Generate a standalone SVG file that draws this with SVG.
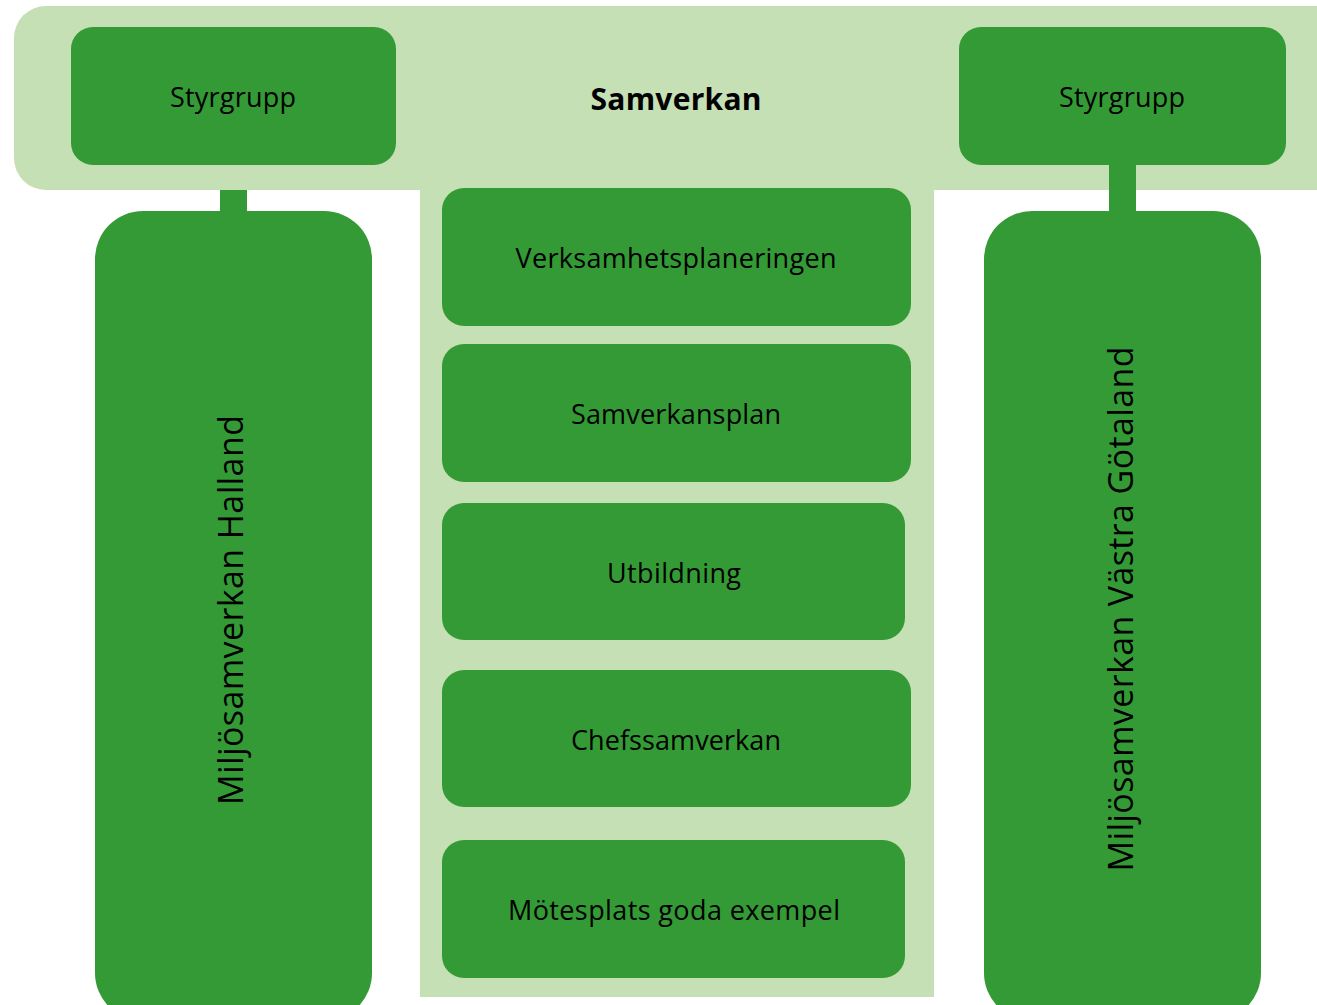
<svg xmlns="http://www.w3.org/2000/svg" width="1317" height="1005" viewBox="0 0 1317 1005">
<style>
.bg{fill:#C5E0B4}
.box{fill:#349A35}
.lbl{font-family:"Open Sans","DejaVu Sans",sans-serif;font-size:27px;fill:#000;text-anchor:middle}
.big{font-size:34px}
.bold{font-weight:bold;font-size:30px}
</style>
<rect width="1317" height="1005" fill="#fff"/>
<g id="samverkan">
<rect class="bg" x="14" y="6" width="1340" height="184" rx="32"/>
<rect class="bg" x="420" y="180" width="514" height="817"/>
<text class="lbl bold" x="676" y="110" textLength="171">Samverkan</text>
</g>
<g id="connectors">
<rect class="box" x="220" y="190" width="27" height="25"/>
<rect class="box" x="1109" y="160" width="27" height="55"/>
</g>
<g id="styrgrupp-left">
<rect class="box" x="71" y="27" width="325" height="138" rx="22"/>
<text class="lbl" x="233" y="107" textLength="126">Styrgrupp</text>
</g>
<g id="styrgrupp-right">
<rect class="box" x="959" y="27" width="327" height="138" rx="22"/>
<text class="lbl" x="1122" y="107" textLength="126">Styrgrupp</text>
</g>
<g id="halland">
<rect class="box" x="95" y="211" width="277" height="810" rx="48"/>
<text class="lbl big" transform="translate(243,610) rotate(-90)" x="0" y="0" textLength="390">Miljösamverkan Halland</text>
</g>
<g id="vastra-gotaland">
<rect class="box" x="984" y="211" width="277" height="810" rx="48"/>
<text class="lbl big" transform="translate(1133,609) rotate(-90)" x="0" y="0" textLength="525">Miljösamverkan Västra Götaland</text>
</g>
<g id="verksamhetsplaneringen">
<rect class="box" x="442" y="188" width="469" height="138" rx="22"/>
<text class="lbl" x="676" y="268" textLength="321">Verksamhetsplaneringen</text>
</g>
<g id="samverkansplan">
<rect class="box" x="442" y="344" width="469" height="138" rx="22"/>
<text class="lbl" x="676" y="424" textLength="210">Samverkansplan</text>
</g>
<g id="utbildning">
<rect class="box" x="442" y="503" width="463" height="137" rx="22"/>
<text class="lbl" x="674" y="583" textLength="134">Utbildning</text>
</g>
<g id="chefssamverkan">
<rect class="box" x="442" y="670" width="469" height="137" rx="22"/>
<text class="lbl" x="676" y="750" textLength="210">Chefssamverkan</text>
</g>
<g id="motesplats">
<rect class="box" x="442" y="840" width="463" height="138" rx="22"/>
<text class="lbl" x="674" y="920" textLength="332">Mötesplats goda exempel</text>
</g>
</svg>
